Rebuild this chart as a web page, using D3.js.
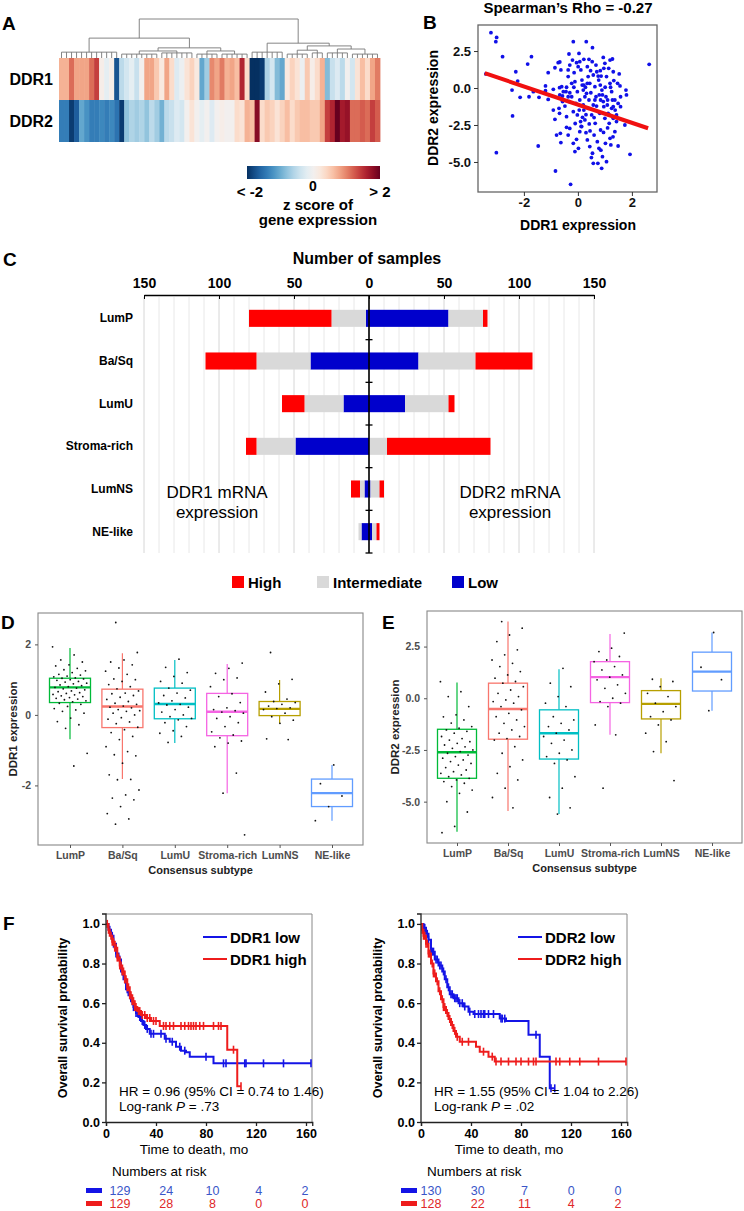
<!DOCTYPE html>
<html>
<head>
<meta charset="utf-8">
<script src="https://d3js.org/d3.v7.min.js"></script>
<style>
  body { margin: 0; background: #fff; overflow: hidden; }
  svg { font-family: "Liberation Sans", Arial, sans-serif; }
  .b { font-weight: bold; }
  .nar { font-family: "Liberation Sans Narrow", "Arial Narrow", "Liberation Sans", sans-serif; }
</style>
<title>DDR1 / DDR2 figure</title>
</head>
<body>
<svg id="fig" width="744" height="1211"></svg>
<script>
// ---------- A: heatmap (z score per column block) ----------
const heatGenes = ["DDR1", "DDR2"];
const heatDDR1 = [0.8,0.8,1.3,0.9,0.9,0.9,1.3,1.6,0.1,-0.2, 0.1,-2.0,-0.6,-0.4,-0.2,-0.5,0.0,0.9,0.9,0.6,
  0.2,0.9,0.4,-0.3,-0.1,0.3,0.5,0.2,-1.2,-0.8, 1.1,0.9,1.2,0.8,0.9,0.7,1.8,0.4,-2.3,-2.3,
  -2.2,-0.7,-0.4,-1.0,-1.2,0.2,0.5,0.3,-0.1,0.6, 0.1,0.4,0.8,-1.0,-0.5,-0.3,-0.6,0.0,-0.4,0.3, 0.7,0.4,0.9,1.2];
const heatDDR2 = [-1.6,-1.6,-2.2,-1.9,-1.2,-1.4,-1.6,-1.6,-1.5,-1.6, -1.5,-1.7,-2.2,-0.9,-0.7,-0.8,-0.7,-0.9,-0.6,-0.8,
  -1.1,-0.6,-0.5,-0.3,-0.4,0.0,0.3,0.0,-0.2,0.0, -0.3,0.0,0.1,0.0,0.0,0.4,0.3,0.8,0.7,2.1,
  0.4,0.6,0.5,0.3,0.5,0.7,0.4,0.6,0.7,0.7, 0.6,0.6,0.9,1.6,1.8,2.4,1.9,2.0,1.3,1.3, 1.4,1.3,1.6,1.4];
// dendrogram: merge heights (0 = leaves, 1 = root), leaf clusters give column ranges
const dendro = {h: 1, children: [
  {h: 0.51, children: [
    {h: 0.15, cols: [0, 12]},
    {h: 0.26, children: [
      {h: 0.18, children: [{h: 0.1, cols: [12, 20]}, {h: 0.13, cols: [20, 27]}]},
      {h: 0.18, children: [{h: 0.1, cols: [27, 32]}, {h: 0.1, cols: [32, 38]}]}
    ]}
  ]},
  {h: 0.38, children: [
    {h: 0.15, cols: [38, 45]},
    {h: 0.31, children: [
      {h: 0.2, children: [{h: 0.1, cols: [45, 50]}, {h: 0.13, cols: [50, 53]}]},
      {h: 0.23, children: [{h: 0.13, cols: [53, 58]}, {h: 0.1, cols: [58, 64]}]}
    ]}
  ]}
]};

// ---------- B: scatter DDR1 vs DDR2 ----------
const ddrPairs = [[-3.22,3.74],[-3.01,3.42],[-3.04,3.13],[-2.79,2.12],[-3.41,0.95],[-2.30,1.10],[-2.23,0.47],[-2.44,-0.14],
  [-2.42,-1.89],[-3.02,-4.37],[-1.86,1.62],[-1.72,2.12],[-2.14,-0.63],[-1.81,-0.59],[-1.65,-0.25],[-1.44,-0.63],
  [-1.47,-3.92],[-1.20,0.14],[-1.20,-0.18],[-1.10,1.04],[-1.10,-0.77],[-0.91,-0.09],[-0.85,1.37],[-0.83,-5.61],
  [-0.73,1.71],[-0.67,1.76],[-0.63,1.22],[-0.68,0.02],[-0.67,-0.47],[-0.70,-1.37],[-0.68,-1.71],[-0.65,-3.06],
  [-0.63,-3.69],[-0.42,-1.94],[-0.44,-0.25],[-0.36,0.77],[-0.33,2.30],[-0.30,1.55],[-0.27,-6.51],[-0.17,3.13],
  [-0.14,1.04],[-0.11,0.43],[-0.05,1.71],[0.01,1.44],[0.04,2.34],[0.07,1.78],[0.11,1.22],[0.15,0.54],[0.20,-0.14],
  [0.26,-0.59],[0.31,3.13],[0.35,1.44],[0.38,0.77],[0.44,0.32],[0.47,1.17],[0.54,2.73],[0.53,1.78],[0.57,0.88],
  [0.63,0.09],[0.67,-0.59],[0.70,1.10],[0.75,0.81],[0.77,0.54],[0.83,0.20],[0.94,2.07],[0.96,1.33],[1.00,1.67],
  [1.06,0.77],[1.14,1.33],[1.19,1.89],[1.25,-0.25],[1.28,1.96],[1.33,0.50],[1.37,-0.81],[1.47,0.32],[1.53,0.95],
  [1.58,-0.59],[1.74,-2.50],[1.78,-0.14],[1.80,-0.47],[1.93,-4.48],[2.64,1.60],[-0.79,-3.18],[-0.42,-2.66],
  [-0.36,-3.18],[-0.30,-2.73],[-0.17,-3.74],[-0.11,-4.30],[-0.05,-3.47],[0.02,-4.08],[0.07,-2.95],[0.14,-2.61],
  [0.17,-1.98],[0.22,-1.49],[0.30,-3.02],[0.35,-3.51],[0.42,-2.43],[0.44,-3.96],[0.51,-1.82],[0.54,-4.41],
  [0.57,-5.09],[0.60,-3.18],[0.64,-2.39],[0.69,-1.22],[0.72,-3.63],[0.74,-5.09],[0.78,-4.08],[0.81,-1.71],
  [0.84,-2.84],[0.88,-5.43],[0.91,-4.64],[0.94,-0.92],[0.96,-1.26],[1.00,-2.05],[1.02,-3.74],[1.06,-4.98],
  [1.10,-0.81],[1.12,-1.71],[1.16,-2.39],[1.19,-3.40],[1.22,-3.85],[1.25,-1.37],[1.31,-2.05],[1.37,-2.95],
  [1.43,-1.82],[1.49,-3.92],[-0.91,-1.49],[-0.85,-2.12],[-0.57,-0.92],[-0.48,-1.22],[-0.32,-0.92],[-0.23,-0.59],
  [-0.17,-1.60],[-0.07,-1.04],[-0.02,-1.82],[0.05,-1.49],[0.07,-0.81],[0.10,-2.27],[0.20,-1.15],[0.26,-2.16],
  [0.32,-0.36],[0.38,-1.37],[0.41,-0.81],[0.48,-0.32],[0.57,-1.15],[0.63,-0.81],[0.79,-0.47],[0.84,-0.81],
  [0.89,-0.14],[0.91,-0.47],[1.01,0.05],[1.04,-0.59],[1.09,-1.15],[1.16,-1.82],[1.21,0.05],[1.28,-0.81],
  [1.31,-1.26],[1.38,-1.49],[1.43,-2.27],[1.49,-1.04],[1.58,-1.26],[0.16,0.20],[0.22,0.20],[0.28,0.05],
  [0.35,0.32],[-0.02,-0.25],[-0.15,0.05],[-0.23,0.32],[-0.30,-0.32],[-0.42,0.05],[-0.54,-0.25],[-0.57,-0.54],
  [-0.36,-0.59],[-0.60,0.09],[-0.36,1.22],[-0.20,1.89],[0.22,1.94],[0.41,1.94],[0.67,1.55],[0.83,1.17],
  [0.86,0.81],[1.31,1.10],[1.56,0.14],[1.19,0.32],[0.12,-2.6],[0.45,-2.9],[0.95,-3.0],[1.1,-2.7],[0.6,-2.0],
  [0.3,-1.8],[-0.1,-2.4],[1.3,-3.3],[0.85,-4.2],[0.5,-4.7]];
const fitX = [-3.45, 2.6];
const fitY = [1.0, -2.72];

// ---------- C: sample counts per subtype ----------
const subtypes = ["LumP", "Ba/Sq", "LumU", "Stroma-rich", "LumNS", "NE-like"];
const ddr1Low  = [2, 39, 17, 49, 3, 5];
const ddr1Int  = [23, 36, 26, 26, 3, 2];
const ddr1High = [55, 34, 15, 7, 6, 0];
const ddr2Low  = [53, 33, 24, 0, 1, 2];
const ddr2Int  = [23, 38, 29, 12, 6, 3];
const ddr2High = [3, 38, 4, 69, 3, 2];
const levels = ["High", "Intermediate", "Low"];

// ---------- D / E: box plots [lower whisker, q1, median, q3, upper whisker] ----------
const boxD = [[-0.69,0.35,0.78,1.04,1.90],[-1.82,-0.36,0.24,0.73,1.75],[-0.80,-0.11,0.31,0.76,1.56],
  [-2.22,-0.59,0.09,0.61,1.44],[-0.24,-0.02,0.17,0.38,0.99],[-3.0,-2.6,-2.22,-1.82,-1.42]];
const boxE = [[-6.45,-3.87,-2.61,-1.50,0.76],[-5.45,-1.98,-0.52,0.73,3.71],[-5.6,-2.94,-1.69,-0.56,1.40],
  [-1.77,-0.21,1.02,1.77,3.11],[-2.66,-1.0,-0.27,0.37,0.97],[-0.6,0.35,1.29,2.23,3.18]];
const ptsD = [
  [1.93,1.7,1.56,1.5,1.42,1.39,1.32,1.28,1.25,1.2,1.15,1.13,1.1,1.08,1.05,1.04,1.02,1.0,0.98,0.95,0.93,0.9,0.88,0.85,
   0.83,0.8,0.78,0.76,0.74,0.71,0.68,0.66,0.63,0.61,0.58,0.57,0.54,0.52,0.49,0.47,0.45,0.43,0.4,0.37,0.33,0.3,0.24,
   0.18,0.14,0.1,0.05,-0.09,-0.19,-0.28,-0.38,-1.09,-1.45],
  [2.62,1.77,1.56,1.5,1.42,1.33,1.24,1.15,1.02,1.0,0.95,0.86,0.8,0.74,0.68,0.62,0.6,0.55,0.5,0.44,0.38,0.33,0.3,0.25,
   0.22,0.2,0.15,0.12,0.1,0.05,0.0,-0.08,-0.12,-0.2,-0.25,-0.35,-0.42,-0.5,-0.61,-0.7,-0.9,-1.04,-1.13,-1.16,-1.37,
   -1.7,-1.83,-1.84,-2.13,-2.27,-2.36,-2.41,-2.6,-2.8,-2.95,-3.1],
  [1.58,1.35,1.2,1.09,0.95,0.9,0.76,0.7,0.62,0.55,0.48,0.4,0.34,0.3,0.28,0.22,0.15,0.08,0.0,-0.05,-0.1,-0.14,-0.22,
   -0.33,-0.45,-0.52,-0.61,-0.78],
  [1.47,1.32,1.18,1.05,1.0,0.8,0.6,0.52,0.35,0.2,0.15,0.12,0.08,0.05,-0.05,-0.1,-0.22,-0.33,-0.48,-0.57,-0.65,-0.74,
   -0.8,-0.9,-1.65,-2.22,-3.4],
  [1.77,1.01,0.88,0.65,0.45,0.38,0.35,0.3,0.25,0.2,0.18,0.15,0.05,-0.05,-0.15,-0.24,-0.68,-0.7],
  [-1.42,-1.95,-2.3,-2.6,-3.0]];
const ptsE = [
  [0.8,0.32,0.08,-0.4,-0.8,-0.9,-1.05,-1.2,-1.37,-1.45,-1.53,-1.6,-1.69,-1.85,-1.95,-2.02,-2.1,-2.18,-2.26,-2.35,-2.42,
   -2.5,-2.58,-2.66,-2.75,-2.82,-2.9,-2.98,-3.06,-3.15,-3.23,-3.35,-3.47,-3.55,-3.63,-3.71,-3.79,-3.87,-3.95,-4.03,
   -4.11,-4.27,-4.44,-4.6,-5.0,-5.5,-6.2,-6.5],
  [3.71,3.39,3.06,2.74,2.34,2.1,1.85,1.69,1.53,1.29,1.13,0.97,0.81,0.73,0.56,0.4,0.24,0.08,-0.08,-0.16,-0.24,-0.4,
   -0.56,-0.73,-0.89,-1.05,-1.21,-1.37,-1.53,-1.69,-1.85,-1.95,-2.02,-2.34,-2.66,-2.98,-3.31,-3.63,-3.95,-4.35,-4.8,-5.3],
  [1.45,0.73,0.56,0.08,-0.24,-0.4,-0.89,-1.05,-1.21,-1.37,-1.53,-1.69,-1.85,-2.02,-2.18,-2.5,-2.66,-2.82,-2.98,-3.15,
   -3.79,-4.35,-4.8,-5.3,-5.6],
  [3.15,2.42,2.26,2.02,1.85,1.77,1.53,1.37,1.13,1.02,0.89,0.65,0.48,0.24,0.0,-0.16,-0.24,-0.4,-1.29,-1.77,-4.35],
  [0.92,0.81,0.56,0.24,0.08,-0.24,-0.4,-0.65,-0.89,-1.05,-1.29,-1.69,-2.1,-2.58,-3.98],
  [3.18,1.5,0.9,-0.6]];
const subtypeColors = ["#00BA38", "#F8766D", "#00BFC4", "#F564E3", "#B79F00", "#619CFF"];

// ---------- F: Kaplan-Meier steps (time in months, survival after the step) ----------
const km1LowT  = [0,2,4,6,8,10,12,14,16,18,20,22,24,26,28,30,32,35,47,51,56,60,64,67,86];
const km1LowS  = [1.0,0.97,0.94,0.9,0.85,0.82,0.76,0.72,0.67,0.64,0.61,0.58,0.55,0.53,0.51,0.49,0.47,0.445,0.42,0.405,0.38,0.36,0.352,0.33,0.296];
const km1HighT = [0,2,3,5,7,9,11,13,15,17,19,21,23,25,28,32,36,43,97,105];
const km1HighS = [1.0,0.97,0.94,0.91,0.88,0.83,0.79,0.76,0.72,0.68,0.64,0.61,0.58,0.56,0.54,0.525,0.51,0.485,0.365,0.18];
const km2LowT  = [0,2,4,6,8,11,14,17,19,21,23,26,30,34,38,42,63,68,86,95,103];
const km2LowS  = [1.0,0.98,0.95,0.92,0.86,0.82,0.79,0.76,0.72,0.68,0.645,0.625,0.6,0.583,0.557,0.545,0.522,0.51,0.44,0.33,0.17];
const km2HighT = [0,1,2,4,6,8,10,12,14,16,18,20,22,24,26,28,31,44,47,54,59];
const km2HighS = [1.0,0.97,0.94,0.9,0.85,0.8,0.75,0.71,0.66,0.62,0.58,0.55,0.52,0.49,0.46,0.43,0.405,0.38,0.355,0.33,0.305];
// censored times (last one = end of follow-up)
const cen1Low  = [3,5,6,8,9,11,13,15,17,19,21,22,24,25,27,29,31,33,36,38,44,48,53,59,63,80,94,96,111,112,126,142,164];
const cen1High = [1,2,4,5,6,7,8,9,10,11,12,13,14,15,16,17,18,19,20,21,22,23,24,26,27,29,31,33,35,38,40,46,48,51,54,60,63,66,68,70,72,75,78,86,90,92,102,108];
const cen2Low  = [2,3,5,6,8,9,10,12,13,15,16,18,20,22,24,25,27,28,29,31,33,35,39,43,46,48,50,51,54,58,64,65,67,92,104,107];
const cen2High = [1,2,3,4,5,6,7,9,10,11,13,15,17,18,19,21,23,25,27,29,33,38,50,57,60,64,70,76,80,86,90,92,108,111,119,127,142,164];
const riskTimes  = [0, 40, 80, 120, 160];
const risk1Low   = [129, 24, 10, 4, 2];
const risk1High  = [129, 28, 8, 0, 0];
const risk2Low   = [130, 30, 7, 0, 0];
const risk2High  = [128, 22, 11, 4, 2];

const svg = d3.select("#fig");

function label(g, x, y, s, size, opts) {
  opts = opts || {};
  return g.append("text").attr("x", x).attr("y", y).text(s)
    .attr("font-size", size)
    .attr("font-weight", opts.bold === false ? "normal" : "bold")
    .attr("text-anchor", opts.anchor || "start")
    .attr("fill", opts.fill || "#000")
    .attr("class", opts.cls || null);
}
function panelLetter(x, y, s) { label(svg, x, y, s, 19); }

// ================= A =================
const A = svg.append("g");
const colX = d3.scaleBand().domain(d3.range(heatDDR1.length)).range([59, 380]);
const rowY = d3.scaleBand().domain(heatGenes).range([58, 142]);
const zColor = d3.scaleDiverging(t => d3.interpolateRdBu(1 - t)).domain([-2.3, 0, 2.3]).clamp(true);
[heatDDR1, heatDDR2].forEach((vals, r) => {
  A.append("g").selectAll("rect").data(vals).join("rect")
    .attr("x", (d, i) => colX(i)).attr("y", rowY(heatGenes[r]))
    .attr("width", colX.bandwidth() + 0.4).attr("height", rowY.bandwidth())
    .attr("fill", d => zColor(d));
  label(A, 53, rowY(heatGenes[r]) + rowY.bandwidth() / 2 + 6, heatGenes[r], 16, {anchor: "end"});
});
const hY = d3.scaleLinear().domain([0, 1]).range([58, 19]);
const dg = A.append("g").attr("stroke", "#777").attr("stroke-width", 0.9).attr("fill", "none");
function seg(x1, y1, x2, y2) { dg.append("line").attr("x1", x1).attr("y1", y1).attr("x2", x2).attr("y2", y2); }
function drawNode(n) {
  if (n.cols) {
    const xs = d3.range(n.cols[0], n.cols[1]).map(i => colX(i) + colX.bandwidth() / 2);
    xs.forEach(x => seg(x, hY(0), x, hY(n.h)));
    seg(xs[0], hY(n.h), xs[xs.length - 1], hY(n.h));
    return (xs[0] + xs[xs.length - 1]) / 2;
  }
  const xs = n.children.map(drawNode);
  n.children.forEach((c, i) => seg(xs[i], hY(c.h), xs[i], hY(n.h)));
  seg(xs[0], hY(n.h), xs[1], hY(n.h));
  return (xs[0] + xs[1]) / 2;
}
drawNode(dendro);
// colour key
const grad = svg.append("defs").append("linearGradient").attr("id", "zgrad");
d3.range(-2.3, 2.31, 0.23).forEach(v => {
  grad.append("stop").attr("offset", (v + 2.3) / 4.6).attr("stop-color", zColor(v));
});
A.append("rect").attr("x", 247).attr("y", 166).attr("width", 133).attr("height", 13).attr("fill", "url(#zgrad)");
label(A, 250, 197, "< -2", 15, {anchor: "middle"});
label(A, 313, 191, "0", 14, {anchor: "middle"});
label(A, 380, 197, "> 2", 15, {anchor: "middle"});
label(A, 318, 210, "z score of", 15, {anchor: "middle"});
label(A, 318, 225, "gene expression", 15, {anchor: "middle"});
panelLetter(2, 30, "A");

// ================= B =================
const B = svg.append("g");
const bx = d3.scaleLinear().domain([-3.7, 2.93]).range([478, 657]);
const by = d3.scaleLinear().domain([-7.03, 4.26]).range([192, 25]);
B.append("g").selectAll("circle").data(ddrPairs).join("circle")
  .attr("cx", d => bx(d[0])).attr("cy", d => by(d[1])).attr("r", 1.9).attr("fill", "#1010e8");
B.append("line").attr("x1", bx(fitX[0])).attr("y1", by(fitY[0])).attr("x2", bx(fitX[1])).attr("y2", by(fitY[1]))
  .attr("stroke", "#f01010").attr("stroke-width", 4);
B.append("rect").attr("x", 478).attr("y", 25).attr("width", 179).attr("height", 167)
  .attr("fill", "none").attr("stroke", "#666").attr("stroke-width", 1.3);
const bAxY = B.append("g").attr("transform", "translate(478,0)")
  .call(d3.axisLeft(by).tickValues([2.5, 0, -2.5, -5]).tickFormat(d => d.toFixed(1)).tickSize(4).tickPadding(3));
const bAxX = B.append("g").attr("transform", "translate(0,192)")
  .call(d3.axisBottom(bx).tickValues([-2, 0, 2]).tickFormat(d => d).tickSize(4).tickPadding(2));
[bAxY, bAxX].forEach(g => {
  g.select(".domain").remove();
  g.selectAll("text").attr("font-size", 13).attr("font-weight", "bold").attr("fill", "#111")
    .attr("font-family", "Liberation Sans, Arial, sans-serif");
  g.selectAll("line").attr("stroke", "#333");
});
label(B, 568, 13, "Spearman\u2019s Rho = -0.27", 15, {anchor: "middle"});
label(B, 578, 230, "DDR1 expression", 14, {anchor: "middle"});
label(B, 0, 0, "DDR2 expression", 14, {anchor: "middle"}).attr("transform", "translate(438,108) rotate(-90)");
panelLetter(423, 29, "B");

// ================= C =================
const C = svg.append("g");
const cxs = d3.scaleLinear().domain([-150, 150]).range([144, 594]);
const cys = d3.scaleBand().domain(subtypes).range([297, 553]);
const barH = cys.bandwidth() * 0.4;
C.append("g").selectAll("line").data(d3.range(-150, 151, 10)).join("line")
  .attr("x1", d => cxs(d)).attr("x2", d => cxs(d)).attr("y1", 297).attr("y2", 553)
  .attr("stroke", d => d % 50 === 0 ? "#d6d6d6" : "#e8e8e8").attr("stroke-width", 1);
const levelColor = {High: "#ff0000", Intermediate: "#d9d9d9", Low: "#0000cc"};
function stackSide(low, inter, high, sign) {
  subtypes.forEach((s, i) => {
    const segs = [["Low", 0, low[i]], ["Intermediate", low[i], low[i] + inter[i]],
                  ["High", low[i] + inter[i], low[i] + inter[i] + high[i]]];
    segs.forEach(([lv, a, b]) => {
      if (b - a <= 0) return;
      const x1 = cxs(sign * a), x2 = cxs(sign * b);
      C.append("rect").attr("x", Math.min(x1, x2)).attr("y", cys(s) + (cys.bandwidth() - barH) / 2)
        .attr("width", Math.abs(x2 - x1)).attr("height", barH).attr("fill", levelColor[lv]);
    });
  });
}
stackSide(ddr1Low, ddr1Int, ddr1High, -1);
stackSide(ddr2Low, ddr2Int, ddr2High, 1);
C.append("line").attr("x1", cxs(0)).attr("x2", cxs(0)).attr("y1", 295).attr("y2", 553)
  .attr("stroke", "#000").attr("stroke-width", 1.6);
subtypes.forEach(s => {
  const yb = cys(s) + cys.bandwidth();
  C.append("line").attr("x1", cxs(0) - 3.5).attr("x2", cxs(0) + 3.5).attr("y1", yb).attr("y2", yb)
    .attr("stroke", "#000").attr("stroke-width", 1.3);
  label(C, 133, cys(s) + cys.bandwidth() / 2 + 4, s, 12, {anchor: "end"});
});
const cAx = C.append("g").attr("transform", "translate(0,295)")
  .call(d3.axisTop(cxs).tickValues(d3.range(-150, 151, 50)).tickFormat(d => Math.abs(d))
    .tickSizeInner(-4).tickSizeOuter(0).tickPadding(7));
cAx.select(".domain").attr("stroke", "#000").attr("stroke-width", 1.3);
cAx.selectAll("line").attr("stroke", "#000");
cAx.selectAll("text").attr("font-size", 14).attr("font-weight", "bold").attr("fill", "#000")
  .attr("font-family", "Liberation Sans, Arial, sans-serif");
label(C, 367, 264, "Number of samples", 16, {anchor: "middle"});
label(C, 217, 498, "DDR1 mRNA", 17, {anchor: "middle", bold: false});
label(C, 217, 518, "expression", 17, {anchor: "middle", bold: false});
label(C, 510, 498, "DDR2 mRNA", 17, {anchor: "middle", bold: false});
label(C, 510, 518, "expression", 17, {anchor: "middle", bold: false});
const legX = [232, 317, 452];
levels.forEach((lv, i) => {
  C.append("rect").attr("x", legX[i]).attr("y", 576).attr("width", 12).attr("height", 12).attr("fill", levelColor[lv]);
  label(C, legX[i] + 16, 588, lv, 15);
});
panelLetter(3, 266, "C");

// ================= D / E =================
function boxPanel(cfg) {
  const g = svg.append("g");
  const x = d3.scalePoint().domain(subtypes).range(cfg.xr);
  const y = d3.scaleLinear().domain(cfg.yd).range([cfg.y1, cfg.y0]);
  const w = cfg.bw;
  g.append("rect").attr("x", cfg.fx0).attr("y", cfg.y0).attr("width", cfg.fx1 - cfg.fx0).attr("height", cfg.y1 - cfg.y0)
    .attr("fill", "none").attr("stroke", "#888").attr("stroke-width", 1.1);
  subtypes.forEach((s, i) => {
    const [lo, q1, md, q3, hi] = cfg.box[i];
    const c = subtypeColors[i], cx = x(s);
    g.append("line").attr("x1", cx).attr("x2", cx).attr("y1", y(hi)).attr("y2", y(q3)).attr("stroke", c).attr("stroke-width", 1.2);
    g.append("line").attr("x1", cx).attr("x2", cx).attr("y1", y(q1)).attr("y2", y(lo)).attr("stroke", c).attr("stroke-width", 1.2);
    g.append("rect").attr("x", cx - w / 2).attr("y", y(q3)).attr("width", w).attr("height", y(q1) - y(q3))
      .attr("fill", "#fff").attr("stroke", c).attr("stroke-width", 1.3);
    g.append("line").attr("x1", cx - w / 2).attr("x2", cx + w / 2).attr("y1", y(md)).attr("y2", y(md))
      .attr("stroke", c).attr("stroke-width", 2.4);
    // jitter is only a horizontal spread for legibility
    g.append("g").selectAll("circle").data(cfg.pts[i]).join("circle")
      .attr("cx", (d, j) => cx + (((j * 0.618034 + i * 0.31) % 1) - 0.5) * w * 0.85)
      .attr("cy", d => y(d)).attr("r", 0.9).attr("fill", "#111");
  });
  const ay = g.append("g").attr("transform", `translate(${cfg.fx0},0)`)
    .call(d3.axisLeft(y).tickValues(cfg.ticks).tickFormat(cfg.fmt).tickSize(3).tickPadding(4));
  const ax = g.append("g").attr("transform", `translate(0,${cfg.y1})`)
    .call(d3.axisBottom(x).tickSize(3).tickPadding(4));
  [ay, ax].forEach(a => {
    a.select(".domain").remove();
    a.selectAll("line").attr("stroke", "#555");
    a.selectAll("text").attr("font-size", 10.5).attr("font-weight", "bold").attr("fill", "#4d4d4d")
      .attr("font-family", "Liberation Sans, Arial, sans-serif");
  });
  label(g, (cfg.fx0 + cfg.fx1) / 2, cfg.y1 + 29, "Consensus subtype", 11, {anchor: "middle", fill: "#222"});
  label(g, 0, 0, cfg.ytitle, 11.5, {anchor: "middle", fill: "#222"})
    .attr("transform", `translate(${cfg.ytx},${(cfg.y0 + cfg.y1) / 2}) rotate(-90)`);
}
boxPanel({xr: [70, 332], fx0: 38, fx1: 363, y0: 613, y1: 845, yd: [-3.69, 2.89], bw: 41,
  box: boxD, pts: ptsD, ticks: [2, 0, -2], fmt: d => d, ytitle: "DDR1 expression", ytx: 17});
boxPanel({xr: [457, 712], fx0: 427, fx1: 742, y0: 611, y1: 843, yd: [-7.0, 4.22], bw: 39,
  box: boxE, pts: ptsE, ticks: [2.5, 0, -2.5, -5], fmt: d => d.toFixed(1), ytitle: "DDR2 expression", ytx: 399});
panelLetter(1, 629, "D");
panelLetter(382, 629, "E");

// ================= F =================
function survAt(T, S, t) { let s = S[0]; T.forEach((ti, i) => { if (ti <= t) s = S[i]; }); return s; }
function kmPanel(cfg) {
  const g = svg.append("g");
  const x = d3.scaleLinear().domain([0, 165]).range([cfg.x0, cfg.x0 + 206.25]);
  const y = d3.scaleLinear().domain([0, 1.05]).range([1122, 914]);
  const xr = cfg.x0 + 206;
  g.append("line").attr("x1", cfg.x0).attr("x2", xr).attr("y1", 914).attr("y2", 914).attr("stroke", "#888");
  g.append("line").attr("x1", xr).attr("x2", xr).attr("y1", 914).attr("y2", 1122).attr("stroke", "#888");
  const line = d3.line().curve(d3.curveStepAfter).x(d => x(d[0])).y(d => y(d[1]));
  cfg.curves.forEach(cv => {
    const pts = cv.T.map((t, i) => [t, cv.S[i]]);
    pts.push([d3.max(cv.cen), cv.S[cv.S.length - 1]]);
    g.append("path").attr("d", line(pts)).attr("fill", "none").attr("stroke", cv.color).attr("stroke-width", 2);
    g.append("g").selectAll("line").data(cv.cen).join("line")
      .attr("x1", d => x(d)).attr("x2", d => x(d))
      .attr("y1", d => y(survAt(cv.T, cv.S, d)) - 4).attr("y2", d => y(survAt(cv.T, cv.S, d)) + 4)
      .attr("stroke", cv.color).attr("stroke-width", 1.6);
  });
  const ay = g.append("g").attr("transform", `translate(${cfg.x0},0)`)
    .call(d3.axisLeft(y).tickValues([0, 0.2, 0.4, 0.6, 0.8, 1.0]).tickFormat(d => d.toFixed(1)).tickSize(4).tickPadding(2));
  const ax = g.append("g").attr("transform", "translate(0,1122)")
    .call(d3.axisBottom(x).tickValues(riskTimes).tickSize(4).tickPadding(3));
  [ay, ax].forEach(a => {
    a.select(".domain").attr("stroke", "#222").attr("stroke-width", 1.3);
    a.selectAll("line").attr("stroke", "#222").attr("stroke-width", 1.3);
    a.selectAll("text").attr("font-size", 12.5).attr("font-weight", "bold").attr("fill", "#000")
      .attr("font-family", "Liberation Sans, Arial, sans-serif");
  });
  ay.select(".domain").attr("d", `M-4,${y(1.05)}H0V1122`);
  // legend
  cfg.curves.forEach((cv, i) => {
    const ly = 937 + i * 22;
    g.append("line").attr("x1", cfg.x0 + 97).attr("x2", cfg.x0 + 121).attr("y1", ly).attr("y2", ly)
      .attr("stroke", cv.color).attr("stroke-width", 2);
    label(g, cfg.x0 + 124, ly + 5.5, cv.name, 15);
  });
  const hr = label(g, cfg.x0 + 13, 1096, "", 13.5, {cls: "nar", bold: false});
  hr.text(cfg.hr);
  const lr = label(g, cfg.x0 + 13, 1111, "", 13.5, {cls: "nar", bold: false});
  lr.append("tspan").text("Log-rank ");
  lr.append("tspan").attr("font-style", "italic").text("P");
  lr.append("tspan").text(" = " + cfg.p);
  label(g, cfg.x0 + 88, 1154, "Time to death, mo", 13.5, {anchor: "middle", cls: "nar", bold: false});
  label(g, 0, 0, "Overall survival probability", 12.5, {anchor: "middle"})
    .attr("transform", `translate(${cfg.x0 - 39},1018) rotate(-90)`);
  // numbers at risk
  label(g, cfg.x0 + 6, 1176, "Numbers at risk", 13.5, {cls: "nar", bold: false});
  const rx = d3.scalePoint().domain(riskTimes).range(cfg.riskRange);
  cfg.curves.forEach((cv, i) => {
    const ry = 1195 + i * 13;
    g.append("rect").attr("x", cfg.x0 - 20).attr("y", ry - 7).attr("width", 16).attr("height", 5).attr("fill", cv.color);
    g.append("g").selectAll("text").data(cv.risk).join("text")
      .attr("x", (d, j) => rx(riskTimes[j])).attr("y", ry).attr("text-anchor", "middle")
      .attr("font-size", 12.5).attr("class", "nar").attr("fill", cv.numColor).text(d => d);
  });
}
kmPanel({x0: 106, hr: "HR = 0.96 (95% CI = 0.74 to 1.46)", p: ".73", riskRange: [120, 305],
  curves: [
    {name: "DDR1 low", color: "#1414e6", numColor: "#3a56c8", T: km1LowT, S: km1LowS, cen: cen1Low, risk: risk1Low},
    {name: "DDR1 high", color: "#ee1c1c", numColor: "#e02828", T: km1HighT, S: km1HighS, cen: cen1High, risk: risk1High}]});
kmPanel({x0: 421, hr: "HR = 1.55 (95% CI = 1.04 to 2.26)", p: ".02", riskRange: [431, 618],
  curves: [
    {name: "DDR2 low", color: "#1414e6", numColor: "#3a56c8", T: km2LowT, S: km2LowS, cen: cen2Low, risk: risk2Low},
    {name: "DDR2 high", color: "#ee1c1c", numColor: "#e02828", T: km2HighT, S: km2HighS, cen: cen2High, risk: risk2High}]});
panelLetter(3, 930, "F");
</script>
</body>
</html>
